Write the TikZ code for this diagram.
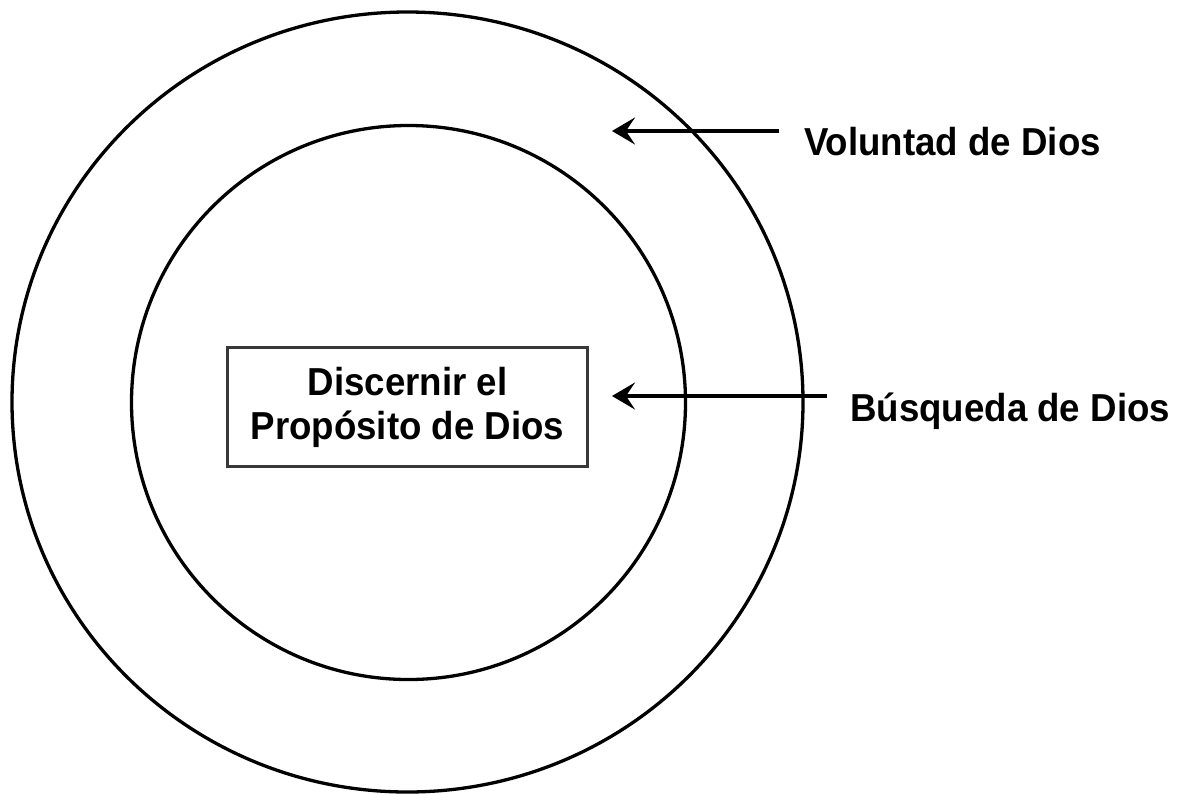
\documentclass[tikz,border=0pt]{standalone}
\usepackage{fontspec}
\setmainfont{Liberation Sans}[FakeStretch=0.94]
\usetikzlibrary{arrows.meta, shapes.geometric}

\begin{document}
\begin{tikzpicture}[
  x=1pt,y=-1pt,
  ring/.style={draw=black,line width=3.3pt},
  purp/.style={rectangle,draw=black!78,line width=2.6pt,minimum width=360pt,minimum height=119pt,align=center,font=\fontsize{39}{44}\selectfont\bfseries,inner sep=0pt},
  lbl/.style={anchor=base west,inner sep=0pt,font=\fontsize{39}{44}\selectfont\bfseries},
  arr/.style={-{Stealth[length=23pt,width=27pt,inset=9pt]},line width=3.3pt}
]
  \useasboundingbox (0,0) rectangle (1178,793);
  \draw[ring] (407.5,402) ellipse [x radius=395.5pt,y radius=390pt];
  \draw[ring] (408.5,402.5) circle [radius=277pt];
  \node[purp](prop) at (407.5,407) {Discernir el\\Propósito de Dios};
  \node[lbl] (vol) at (804,155) {Voluntad de Dios};
  \node[lbl] (bus) at (850,421) {Búsqueda de Dios};
  \coordinate (vtail) at (779,131);  \coordinate (vtip) at (612,131);
  \coordinate (btail) at (827,396);  \coordinate (btip) at (612,396);
  \draw[arr](vtail)--(vtip);
  \draw[arr](btail)--(btip);
\end{tikzpicture}
\end{document}
